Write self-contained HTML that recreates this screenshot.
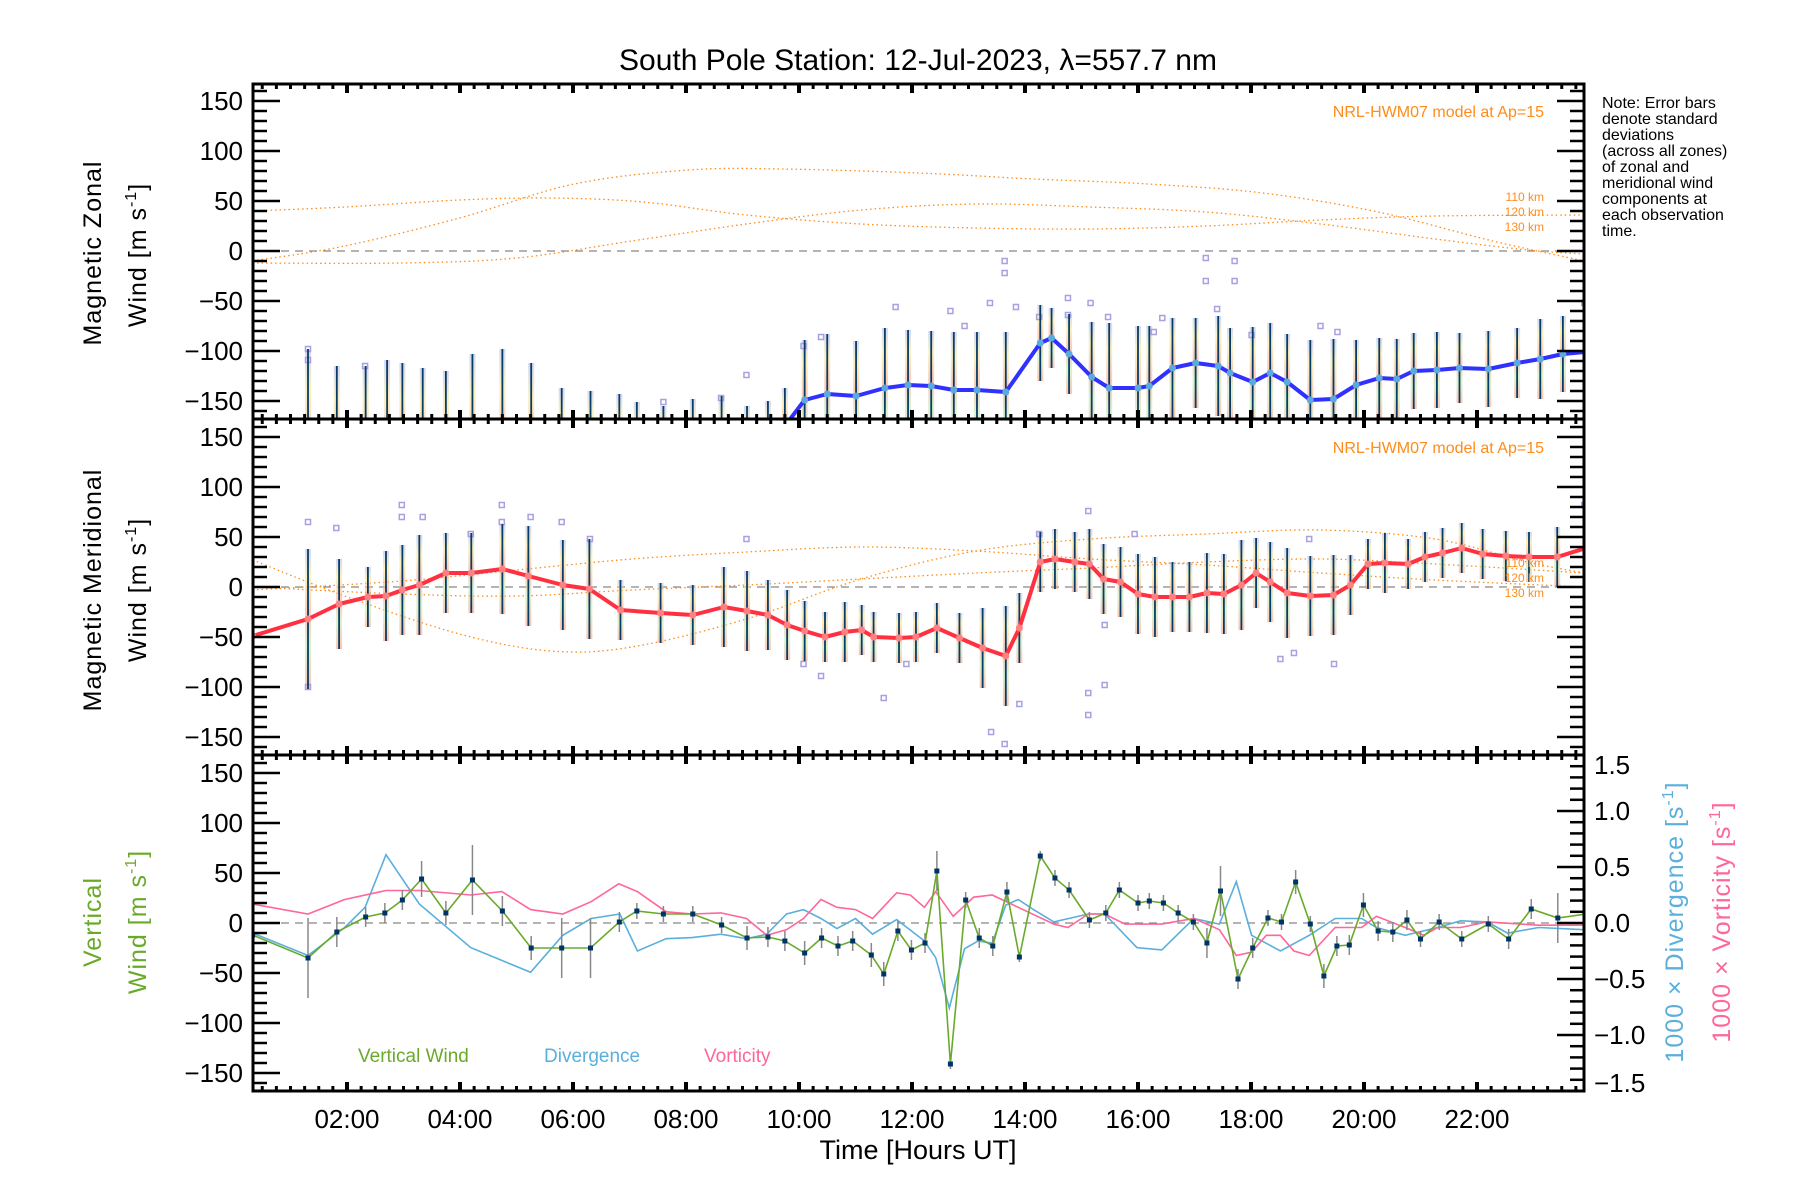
<!DOCTYPE html>
<html><head><meta charset="utf-8"><style>
html,body{margin:0;padding:0;background:#fff;}
svg{display:block;font-family:"Liberation Sans",sans-serif;}
</style></head><body>
<svg id="chart" width="1800" height="1200" viewBox="0 0 1800 1200" xmlns="http://www.w3.org/2000/svg">
<defs>
<linearGradient id="pastel" x1="0" y1="0" x2="0" y2="1">
<stop offset="0" stop-color="#b0c0f0"/><stop offset="0.2" stop-color="#f8e890"/><stop offset="0.45" stop-color="#f8a888"/><stop offset="0.7" stop-color="#c0ecb0"/><stop offset="1" stop-color="#f8a080"/>
</linearGradient>
<clipPath id="c1"><rect x="253" y="84" width="1331" height="335"/></clipPath>
<clipPath id="c2"><rect x="253" y="419" width="1331" height="336"/></clipPath>
<clipPath id="c3"><rect x="253" y="755" width="1331" height="336"/></clipPath>
</defs>
<text x="918" y="70" font-size="30" text-anchor="middle">South Pole Station: 12-Jul-2023, λ=557.7 nm</text>
<g id="p1" clip-path="url(#c1)"></g>
<g id="p2" clip-path="url(#c2)"></g>
<g id="p3" clip-path="url(#c3)"></g>
<g id="axes"></g>
<text x="1544" y="117" font-size="16" fill="#ff8c1a" text-anchor="end">NRL-HWM07 model at Ap=15</text>
<text x="1544" y="453" font-size="16" fill="#ff8c1a" text-anchor="end">NRL-HWM07 model at Ap=15</text>
<g font-size="12" fill="#ff8c1a" text-anchor="end">
<text x="1544" y="201">110 km</text><text x="1544" y="216">120 km</text><text x="1544" y="231">130 km</text></g>
<g font-size="12" fill="#ff8c1a" text-anchor="end">
<text x="1544" y="567">110 km</text><text x="1544" y="582">120 km</text><text x="1544" y="597">130 km</text></g>
<g font-size="16">
<text x="1602" y="108">Note: Error bars</text><text x="1602" y="124">denote standard</text><text x="1602" y="140">deviations</text><text x="1602" y="156">(across all zones)</text><text x="1602" y="172">of zonal and</text><text x="1602" y="188">meridional wind</text><text x="1602" y="204">components at</text><text x="1602" y="220">each observation</text><text x="1602" y="236">time.</text></g>
<text transform="translate(101,253) rotate(-90)" font-size="25" text-anchor="middle" letter-spacing="1">Magnetic Zonal</text>
<text transform="translate(146,255) rotate(-90)" font-size="25" text-anchor="middle" letter-spacing="1">Wind [m s<tspan font-size="16" dy="-10">-1</tspan><tspan dy="10">]</tspan></text>
<text transform="translate(101,590) rotate(-90)" font-size="25" text-anchor="middle" letter-spacing="1">Magnetic Meridional</text>
<text transform="translate(146,590) rotate(-90)" font-size="25" text-anchor="middle" letter-spacing="1">Wind [m s<tspan font-size="16" dy="-10">-1</tspan><tspan dy="10">]</tspan></text>
<text transform="translate(101,922) rotate(-90)" font-size="25" text-anchor="middle" fill="#6aaa2a" letter-spacing="1">Vertical</text>
<text transform="translate(146,922) rotate(-90)" font-size="25" text-anchor="middle" fill="#6aaa2a" letter-spacing="1">Wind [m s<tspan font-size="16" dy="-10">-1</tspan><tspan dy="10">]</tspan></text>
<text transform="translate(1683,922) rotate(-90)" font-size="25" text-anchor="middle" fill="#5aafdd" letter-spacing="1">1000 × Divergence [s<tspan font-size="16" dy="-10">-1</tspan><tspan dy="10">]</tspan></text>
<text transform="translate(1730,922) rotate(-90)" font-size="25" text-anchor="middle" fill="#ff6699" letter-spacing="1">1000 × Vorticity [s<tspan font-size="16" dy="-10">-1</tspan><tspan dy="10">]</tspan></text>
<text x="358" y="1062" font-size="19" fill="#6aaa2a">Vertical Wind</text>
<text x="544" y="1062" font-size="19" fill="#5aafdd">Divergence</text>
<text x="704" y="1062" font-size="19" fill="#ff6699">Vorticity</text>
<text x="918" y="1159" font-size="27" text-anchor="middle">Time [Hours UT]</text>
</svg>
<script>
// ---- data ----
const zTime=[0.33,1.31,1.82,2.33,2.71,2.98,3.34,3.75,4.22,4.75,5.26,5.80,6.31,6.82,7.13,7.60,8.12,8.63,9.08,9.45,9.75,10.10,10.50,11.01,11.52,11.93,12.34,12.74,13.15,13.66,14.27,14.47,14.78,15.18,15.49,16.0,16.2,16.61,17.02,17.42,17.63,18.03,18.34,18.64,19.05,19.46,19.86,20.27,20.58,20.88,21.29,21.69,22.20,22.71,23.12,23.52,23.93];
const zVal=[-200,-200,-200,-200,-200,-200,-200,-200,-200,-200,-200,-200,-200,-200,-200,-200,-200,-200,-200,-200,-175,-149,-143,-145,-137,-134,-135,-139,-139,-141,-92,-87,-103,-126,-137,-137,-135,-117,-112,-115,-122,-131,-122,-131,-149,-148,-134,-127,-128,-120,-119,-117,-118,-112,-108,-103,-101];
const zSig=[0,102,85,85,91,88,83,80,97,102,88,63,60,57,49,45,52,55,45,50,38,60,60,55,60,55,55,58,58,60,38,30,40,55,65,62,60,50,45,50,45,55,50,48,60,60,45,40,40,38,38,35,38,35,40,38,35];
const zOutT=[13.64,13.64,17.2,17.2,17.71,17.71,13.84,14.25,14.76,14.76,15.16,15.47,11.71,12.68,12.93,13.38,10.39,10.08,9.07,8.62,7.6,1.31,1.31,2.32,19.23,19.53,18.01,16.28,16.43,17.4,23.9];
const zOutV=[-10,-22,-7,-30,-10,-30,-56,-66,-47,-64,-52,-66,-56,-60,-75,-52,-86,-95,-124,-147,-151,-98,-109,-115,-75,-81,-84,-81,-67,-58,-52];
const mTime=[0.33,1.31,1.86,2.37,2.69,2.98,3.28,3.75,4.20,4.75,5.21,5.82,6.29,6.84,7.55,8.12,8.67,9.08,9.45,9.79,10.10,10.46,10.81,11.11,11.32,11.77,12.07,12.44,12.84,13.25,13.66,13.90,14.27,14.53,14.88,15.14,15.39,15.69,16.0,16.30,16.61,16.91,17.22,17.52,17.83,18.09,18.34,18.64,19.05,19.46,19.76,20.07,20.37,20.78,21.08,21.39,21.73,22.10,22.51,22.92,23.42,23.93];
const mVal=[-49,-32,-17,-10,-9,-3,2,14,14,18,11,2,-2,-23,-26,-28,-20,-24,-28,-38,-44,-50,-45,-43,-50,-51,-50,-41,-51,-61,-69,-41,25,28,25,23,8,5,-7,-10,-10,-10,-6,-7,2,14,5,-6,-9,-8,2,23,24,23,30,34,39,33,31,30,30,39];
const mSig=[0,70,45,30,45,45,50,40,40,45,50,45,50,30,30,30,40,40,35,35,30,25,30,25,25,25,25,25,25,40,50,35,30,30,30,35,35,35,40,40,35,35,40,40,45,35,40,45,40,40,30,25,30,25,25,25,25,25,25,25,30,30];
const mOutT=[2.97,2.97,4.74,4.74,5.25,5.80,6.3,1.31,1.81,4.19,3.34,9.07,10.08,10.39,11.5,11.9,13.4,13.64,13.9,15.12,15.12,15.41,15.41,18.52,18.76,19.47,14.25,15.12,15.94,23.9,1.31,19.03];
const mOutV=[82,70,82,65,70,65,48,65,59,53,70,48,-77,-89,-111,-77,-145,-157,-117,-106,-128,-98,-38,-72,-66,-77,53,76,53,82,-100,48];
const vTime=[0.33,1.31,1.82,2.33,2.67,2.98,3.32,3.75,4.22,4.75,5.26,5.80,6.31,6.82,7.13,7.60,8.12,8.63,9.08,9.45,9.75,10.10,10.40,10.69,10.95,11.28,11.50,11.75,11.99,12.23,12.44,12.68,12.95,13.19,13.43,13.68,13.90,14.27,14.53,14.78,15.14,15.43,15.67,16.0,16.20,16.45,16.71,16.98,17.22,17.46,17.77,18.03,18.30,18.54,18.79,19.05,19.29,19.52,19.74,19.99,20.25,20.51,20.76,21.00,21.33,21.73,22.20,22.56,22.96,23.43,23.93];
const vVal=[-12,-35,-9,6,10,23,44,10,43,12,-25,-25,-25,1,12,9,9,-2,-15,-14,-18,-30,-15,-23,-18,-32,-51,-8,-27,-20,52,-141,23,-15,-23,31,-34,67,45,33,3,10,33,20,22,20,10,1,-20,32,-56,-25,5,1,41,-1,-53,-23,-22,18,-8,-9,3,-16,1,-16,-1,-16,14,5,9];
const vSig=[0,40,15,10,10,10,18,12,35,15,12,30,30,10,8,8,8,8,12,10,10,12,10,10,10,12,12,10,10,10,20,5,8,10,10,10,5,5,8,8,8,8,8,8,8,8,8,8,15,25,10,10,8,8,12,8,12,10,10,12,10,10,10,8,8,8,8,10,10,25,10];
const dTime=[0.33,1.31,1.96,2.32,2.69,3.28,4.19,5.25,5.82,6.32,6.83,7.14,7.65,8.11,8.62,9.07,9.43,9.78,10.08,10.39,10.67,11.0,11.30,11.73,12.22,12.42,12.66,12.93,13.17,13.42,13.66,13.88,14.15,14.51,15.12,15.41,15.98,16.42,16.99,17.44,17.74,18.01,18.52,19.03,19.49,19.96,20.22,20.73,21.30,21.71,22.18,22.54,23.09,23.90];
const dVal=[-0.09,-0.29,-0.04,0.14,0.61,0.17,-0.22,-0.44,-0.11,0.04,0.08,-0.25,-0.14,-0.13,-0.10,-0.14,-0.10,0.08,0.12,0.04,-0.05,0.04,-0.10,0.03,-0.16,-0.31,-0.76,-0.23,-0.16,-0.18,0.16,0.21,0.12,0.01,0.08,0.08,-0.22,-0.24,0.04,-0.01,0.37,-0.11,-0.25,-0.11,0.04,0.04,-0.04,-0.11,-0.04,0.02,0.01,-0.09,-0.04,-0.06];
const rTime=[0.33,1.31,1.96,2.69,3.28,4.19,4.74,5.25,5.82,6.32,6.81,7.14,7.65,8.11,8.62,9.07,9.43,9.78,10.08,10.39,10.67,11.0,11.30,11.73,11.97,12.22,12.42,12.73,13.09,13.42,13.88,14.51,14.76,15.12,15.41,15.77,16.42,16.99,17.44,17.74,18.01,18.27,18.52,18.76,19.03,19.49,19.96,20.22,20.73,21.06,21.30,21.71,22.18,23.09,23.90];
const rVal=[0.17,0.08,0.21,0.29,0.29,0.25,0.28,0.12,0.08,0.19,0.35,0.28,0.10,0.08,0.09,0.04,-0.11,-0.06,0.04,0.21,0.14,0.12,0.04,0.27,0.25,0.14,0.28,0.06,0.23,0.25,0.14,-0.01,-0.04,0.08,0.08,-0.01,-0.01,0.04,-0.06,-0.29,-0.26,-0.11,-0.11,-0.25,-0.29,-0.04,-0.04,0.06,-0.04,-0.11,-0.04,-0.04,0.01,-0.02,-0.02];
const hz1T=[0.33,1.96,3.99,6.02,8.05,9.68,12.12,14.15,16.18,18.21,20.25,22.28,23.90];
const hz1V=[-10,5,33,67,81,82,78,72,67,58,39,10,-10];
const hz2T=[0.33,1.96,3.99,5.61,7.24,9.07,11.10,13.13,15.16,17.20,19.23,21.26,23.90];
const hz2V=[40,44,51,53,49,36,27,23,22,25,31,35,36];
const hz3T=[0.33,2.97,5.00,7.04,9.07,11.10,13.13,15.16,17.20,19.23,21.26,22.89,23.90];
const hz3V=[-12,-12,-7,10,27,41,47,44,39,27,12,1,-3];
const hm1T=[0.33,1.96,3.99,5.61,7.04,9.07,11.10,13.13,15.16,17.20,19.23,21.26,22.89,23.90];
const hm1V=[27,-9,-47,-64,-60,-32,8,36,48,53,57,48,25,14];
const hm2T=[0.33,2.97,5.00,7.04,9.07,11.10,13.13,15.16,17.20,19.23,21.26,23.90];
const hm2V=[-3,6,17,28,35,40,36,28,22,14,7,0];
const hm3V=[0,-7,-9,-3,2,8,14,19,25,28,23,14];
const xTickLabels=["02:00","04:00","06:00","08:00","10:00","12:00","14:00","16:00","18:00","20:00","22:00"];
const yTickLabels=["150","100","50","0","−50","−100","−150"];
const rTickLabels=["1.5","1.0","0.5","0.0","−0.5","−1.0","−1.5"];

// ---- scales ----
const X0=253,X1=1584;
function xs(h){return 1025+(h-14)*56.5;}
const zero=[251,587,923];
function ys(p,v){return zero[p]-v;}
function yr(v){return 923-v*112;}
const NS="http://www.w3.org/2000/svg";
function mk(tag,parent,attrs){const e=document.createElementNS(NS,tag);for(const k in attrs)e.setAttribute(k,attrs[k]);parent.appendChild(e);return e;}
function pts(T,V,f){return T.map((t,i)=>xs(t).toFixed(1)+","+f(V[i]).toFixed(1)).join(" ");}
function smooth(T,V,f){let p=[];const n=T.length;for(let i=0;i<n-1;i++){const a=[xs(T[Math.max(i-1,0)]),f(V[Math.max(i-1,0)])],b=[xs(T[i]),f(V[i])],c=[xs(T[i+1]),f(V[i+1])],d=[xs(T[Math.min(i+2,n-1)]),f(V[Math.min(i+2,n-1)])];if(i==0)p.push("M"+b[0]+","+b[1]);p.push("C"+(b[0]+(c[0]-a[0])/6)+","+(b[1]+(c[1]-a[1])/6)+" "+(c[0]-(d[0]-b[0])/6)+","+(c[1]-(d[1]-b[1])/6)+" "+c[0]+","+c[1]);}return p.join(" ");}

const p1=document.getElementById('p1'),p2=document.getElementById('p2'),p3=document.getElementById('p3'),ax=document.getElementById('axes');

function windPanel(g,pi,T,V,S,OT,OV,models,lineCol,name){
  const f=v=>ys(pi,v);
  const z=mk('line',g,{x1:X0,x2:X1,y1:f(0),y2:f(0),stroke:'#888','stroke-dasharray':'8,6','stroke-width':1.2});
  
  
  models.forEach((m,k)=>{
    const e=mk('path',g,{d:smooth(m[0],m[1],f),fill:'none',stroke:'#ff8c1a','stroke-width':1.3,'stroke-dasharray':'1.5,3'});
    
    
  });
  T.forEach((t,i)=>{if(!S[i])return;
    const r=mk('rect',g,{x:xs(t)-3,y:f(V[i]+S[i]),width:6,height:2*S[i],fill:'url(#pastel)',opacity:0.6});
    
    
  });
  OT.forEach((t,i)=>{
    const r=mk('rect',g,{x:xs(t)-2.5,y:f(OV[i])-2.5,width:5,height:5,fill:'none',stroke:'#a8a0e0','stroke-width':1.5});
    
    
  });
  T.forEach((t,i)=>{if(!S[i])return;
    const l=mk('line',g,{x1:xs(t),x2:xs(t),y1:f(V[i]-S[i]),y2:f(V[i]+S[i]),stroke:'#0a3a66','stroke-width':1.8});
    
    
  });
  const pl=mk('polyline',g,{points:pts(T,V,f),fill:'none',stroke:lineCol,'stroke-width':4,'stroke-linejoin':'round'});
  
  
  T.forEach((t,i)=>{
    const c=mk('circle',g,{cx:xs(t),cy:f(V[i]),r:3.5,fill:lineCol=='#3030ff'?'#5aaadd':'#ff8080'});
    
    
  });
}
windPanel(p1,0,zTime,zVal,zSig,zOutT,zOutV,[[hz1T,hz1V],[hz2T,hz2V],[hz3T,hz3V]],'#3030ff','zonal');
windPanel(p2,1,mTime,mVal,mSig,mOutT,mOutV,[[hm1T,hm1V],[hm2T,hm2V],[hm2T,hm3V]],'#ff3040','meridional');

{const f=v=>ys(2,v);
 const z=mk('line',p3,{x1:X0,x2:X1,y1:f(0),y2:f(0),stroke:'#888','stroke-dasharray':'8,6','stroke-width':1.2});
 
 
 const dl=mk('polyline',p3,{points:pts(dTime,dVal,yr),fill:'none',stroke:'#5aafdd','stroke-width':1.6});
 
 
 const rl=mk('polyline',p3,{points:pts(rTime,rVal,yr),fill:'none',stroke:'#ff6699','stroke-width':1.6});
 
 
 vTime.forEach((t,i)=>{if(!vSig[i])return;
   const l=mk('line',p3,{x1:xs(t),x2:xs(t),y1:f(vVal[i]-vSig[i]),y2:f(vVal[i]+vSig[i]),stroke:'#888','stroke-width':1.5});
   
   
 });
 const vl=mk('polyline',p3,{points:pts(vTime,vVal,f),fill:'none',stroke:'#6aaa2a','stroke-width':1.6});
 
 
 vTime.forEach((t,i)=>{
   const r=mk('rect',p3,{x:xs(t)-2.5,y:f(vVal[i])-2.5,width:5,height:5,fill:'#003366'});
   
   
 });
}

const tops=[84,419,755],bots=[419,755,1091];
for(let p=0;p<3;p++){
  const fr=mk('rect',ax,{x:X0,y:tops[p],width:X1-X0,height:bots[p]-tops[p],fill:'none',stroke:'#000','stroke-width':3});
  
  
  for(let v=-160;v<=160;v+=10){const y=zero[p]-v;const maj=v%50==0;const L=maj?27:14;
    mk('line',ax,{x1:X0,x2:X0+L,y1:y,y2:y,stroke:'#000','stroke-width':2.5});
    if(p<2)mk('line',ax,{x1:X1,x2:X1-L,y1:y,y2:y,stroke:'#000','stroke-width':2.5});
  }
  yTickLabels.forEach((s,k)=>{const v=150-50*k;
    const t=mk('text',ax,{x:243,y:zero[p]-v+9,'font-size':26,'text-anchor':'end'});t.textContent=s;
    
    
  });
  for(let h=0.5;h<24;h+=0.25){const x=xs(h);if(x<=X0+1||x>=X1-1)continue;const maj=Math.abs(h/2-Math.round(h/2))<1e-6;const L=maj?9:5;
    mk('line',ax,{x1:x,x2:x,y1:tops[p],y2:tops[p]+L,stroke:'#000','stroke-width':maj?4:3});
    mk('line',ax,{x1:x,x2:x,y1:bots[p],y2:bots[p]-L,stroke:'#000','stroke-width':maj?4:3});
  }
}
for(let v=-15;v<=15;v++){const y=yr(v/10);const maj=v%5==0;mk('line',ax,{x1:X1,x2:X1-(maj?27:14),y1:y,y2:y,stroke:'#000','stroke-width':2.5});}
rTickLabels.forEach((s,k)=>{const v=1.5-0.5*k;
  const off=(k==0)?10:(k==6?-8:0);
  const t=mk('text',ax,{x:1594,y:yr(v)+9+off,'font-size':26});t.textContent=s;
  
  
});
xTickLabels.forEach((s,k)=>{const h=2+2*k;
  const t=mk('text',ax,{x:xs(h),y:1128,'font-size':26,'text-anchor':'middle'});t.textContent=s;
  
  
});
</script>
</body></html>
